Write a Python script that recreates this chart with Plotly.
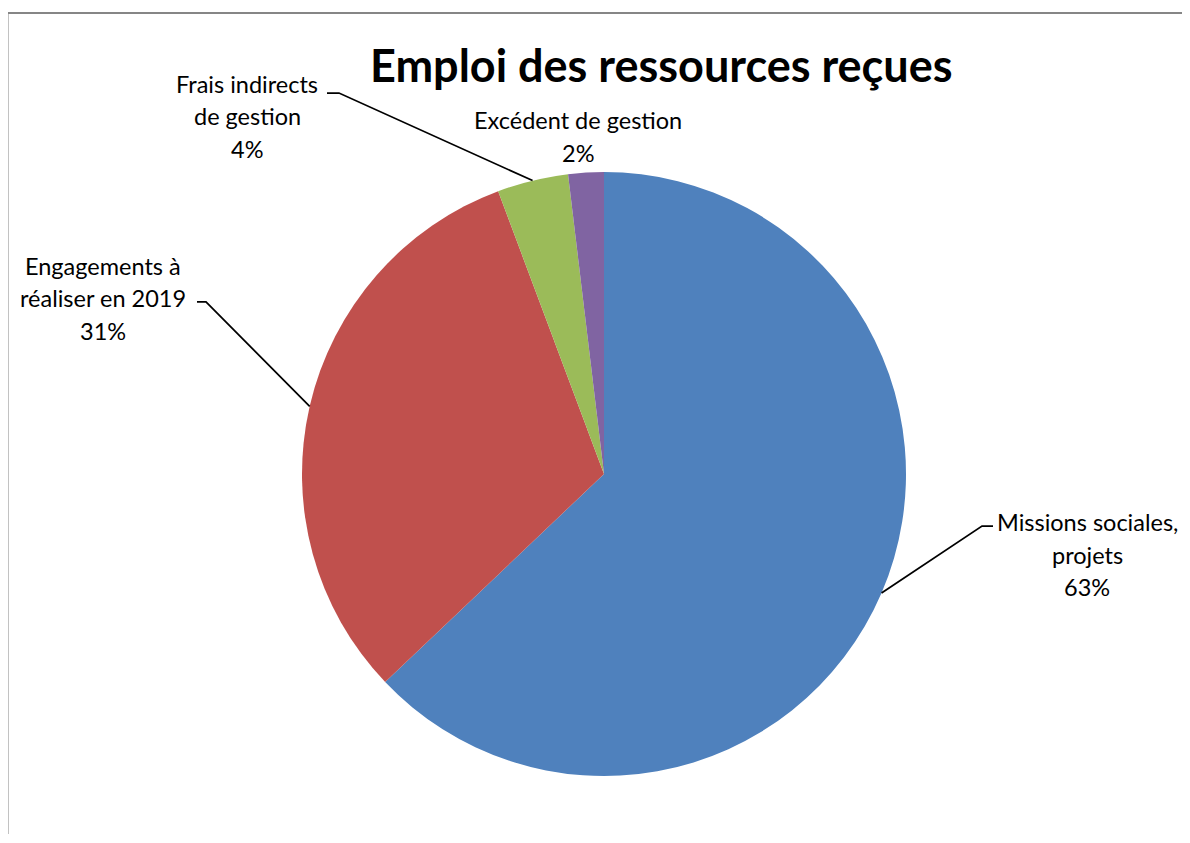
import math
import plotly.graph_objects as go

OFF = 8  # page body margin around the plot div
W, H = 1190 - 2 * OFF, 843 - 2 * OFF - 1  # keep the page free of scrollbars

labels = ["Missions sociales, projets", "Engagements à réaliser en 2019",
          "Frais indirects de gestion", "Excédent de gestion"]
values = [62.9, 31.4, 3.8, 1.9]
colors = ["#4F81BD", "#C0504D", "#9BBB59", "#8064A2"]

# label text lines (as drawn by Excel)
label_lines = [["Missions sociales,", "projets"],
               ["Engagements à", "réaliser en 2019"],
               ["Frais indirects", "de gestion"],
               ["Excédent de gestion"]]

FONT = "Lato"

# pie geometry in screen pixels
cx, cy, r = 604, 474, 302


def px(x):
    return (x - OFF) / W


def py(y):
    return 1 - (y - OFF) / H


fig = go.Figure(go.Pie(
    labels=labels, values=values, sort=False, direction="clockwise", rotation=0,
    marker=dict(colors=colors, line=dict(color="white", width=0)),
    textinfo="none", hoverinfo="label+percent", showlegend=False,
    domain=dict(x=[px(cx - r), px(cx + r)], y=[py(cy + r), py(cy - r)]),
))

# label placement: (center x, first line y, elbow start x, elbow end x, elbow y)
placements = [
    (1087, 522, 993, 982, 526),
    (103, 266, 197, 206, 302),
    (247, 84, 327, 339, 93),
    (578, 120, None, None, None),
]

total = sum(values)
start = 0.0
annotations = []
shapes = []
for i, v in enumerate(values):
    pct = v / total
    mid = (start + pct / 2) * 2 * math.pi
    start += pct
    ex = cx + r * math.sin(mid)
    ey = cy - r * math.cos(mid)
    lx, ly, hx0, hx1, hy = placements[i]
    lines = label_lines[i] + ["%d%%" % round(pct * 100)]
    for j, t in enumerate(lines):
        annotations.append(dict(
            x=px(lx), y=py(ly + j * 32.5), xref="paper", yref="paper",
            text=t, showarrow=False, xanchor="center", yanchor="middle",
            font=dict(family=FONT, size=23.5, color="#000000")))
    if hx0 is not None:
        shapes.append(dict(
            type="path", xref="paper", yref="paper",
            path="M %f,%f L %f,%f L %f,%f" % (px(hx0), py(hy), px(hx1), py(hy), px(ex), py(ey)),
            line=dict(color="black", width=1.75)))

# chart area border (clipped at right and bottom)
shapes.append(dict(type="rect", xref="paper", yref="paper",
                   x0=px(7.5), y0=-0.05, x1=1.05, y1=py(13),
                   line=dict(color="#868686", width=2)))

annotations.append(dict(
    x=px(661), y=py(65), xref="paper", yref="paper",
    text="<b>Emploi des ressources reçues</b>", showarrow=False,
    xanchor="center", yanchor="middle",
    font=dict(family=FONT, size=45, color="#000000")))

fig.update_layout(
    width=W, height=H,
    margin=dict(l=0, r=0, t=0, b=0),
    paper_bgcolor="white", plot_bgcolor="white",
    annotations=annotations, shapes=shapes,
)

fig.write_html("out.html")
